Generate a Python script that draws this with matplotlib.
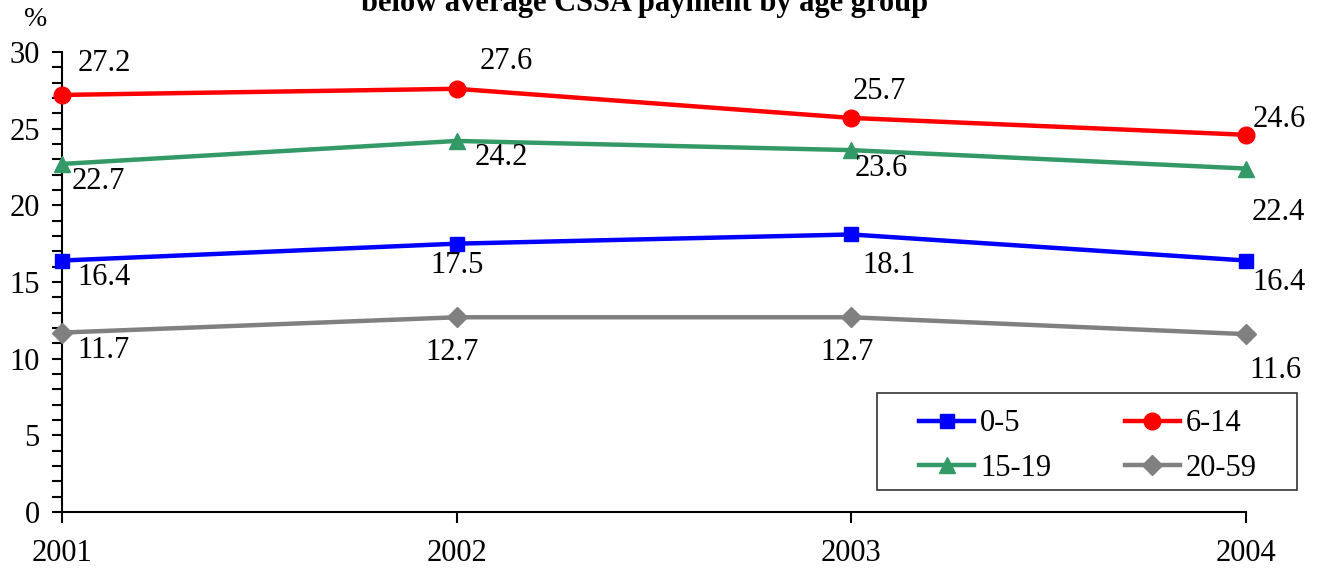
import matplotlib
matplotlib.use("Agg")
import matplotlib.pyplot as plt
from matplotlib.ticker import MultipleLocator
from matplotlib.patches import Rectangle

years = [2001, 2002, 2003, 2004]
series_names = ["0-5", "6-14", "15-19", "20-59"]
age_0_5 = [16.4, 17.5, 18.1, 16.4]
age_6_14 = [27.2, 27.6, 25.7, 24.6]
age_15_19 = [22.7, 24.2, 23.6, 22.4]
age_20_59 = [11.7, 12.7, 12.7, 11.6]
title_text = "below average CSSA payment by age group"

colors = ["#0000FF", "#FF0000", "#339966", "#808080"]
markers = ["s", "o", "^", "D"]
msizes = [10, 12, 12, 10]
# label offsets in pixels (dx, dy) relative to each point (positive dy = down)
label_offsets = [
    [(42, 17), (0, 22), (38, 31), (33, 22)],
    [(42, -31), (50, -27), (28, -26), (33, -15)],
    [(36, 18), (45, 17), (30, 18), (32, 44)],
    [(42, 18), (-5, 35), (-4, 35), (29, 36)],
]

plt.rcParams['font.family'] = ['Liberation Serif', 'DejaVu Serif']

fig = plt.figure(figsize=(13.21, 5.72), dpi=100)
W, H = 1321, 572
ax = fig.add_axes([62 / W, (H - 512) / H, (1246 - 62) / W, (512 - 52) / H])

data = [age_0_5, age_6_14, age_15_19, age_20_59]
handles = []
for vals, name, c, m, ms, offs in zip(data, series_names, colors, markers, msizes, label_offsets):
    ln, = ax.plot(years, vals, color=c, marker=m, markersize=ms, linewidth=3.2,
                  label=name, clip_on=False, zorder=3)
    handles.append(ln)
    for x, v, (dx, dy) in zip(years, vals, offs):
        ax.annotate(f"{v:.1f}", (x, v), xytext=(dx, -dy), textcoords="offset pixels",
                    ha="center", va="center", fontsize=22, color="black")

ax.set_xlim(2001, 2004)
ax.set_ylim(0, 30)
ax.set_xticks(years)
ax.set_xticklabels([str(y) for y in years])
ax.yaxis.set_major_locator(MultipleLocator(5))
ax.yaxis.set_minor_locator(MultipleLocator(1))
for s in ["top", "right"]:
    ax.spines[s].set_visible(False)
for s in ["left", "bottom"]:
    ax.spines[s].set_linewidth(1.5)
ax.tick_params(axis="y", which="both", direction="out", length=7, width=1.5, labelsize=22, pad=9)
ax.tick_params(axis="x", which="major", direction="out", length=8, width=1.5, labelsize=22, pad=11.5)

fig.text(36 / W, 1 - 19 / H, "%", ha="center", va="center", fontsize=20)
fig.text(645 / W, 1 - 11 / H, title_text, ha="center", va="baseline",
         fontsize=22, fontweight="bold")

order = [0, 2, 1, 3]
leg = ax.legend([handles[i] for i in order], [series_names[i] for i in order],
                ncol=2, loc="center",
                bbox_to_anchor=(1088 / W, 1 - 446 / H),
                bbox_transform=fig.transFigure, fontsize=22, handlelength=1.8,
                handletextpad=0.2, columnspacing=2.4, frameon=False,
                borderaxespad=0, borderpad=0, labelspacing=0.5)
fig.patches.append(Rectangle((877 / W, 1 - 490 / H), 420 / W, 97 / H,
                             transform=fig.transFigure, fill=False,
                             edgecolor="#333333", linewidth=1.2))

fig.savefig("out.png", dpi=100)
